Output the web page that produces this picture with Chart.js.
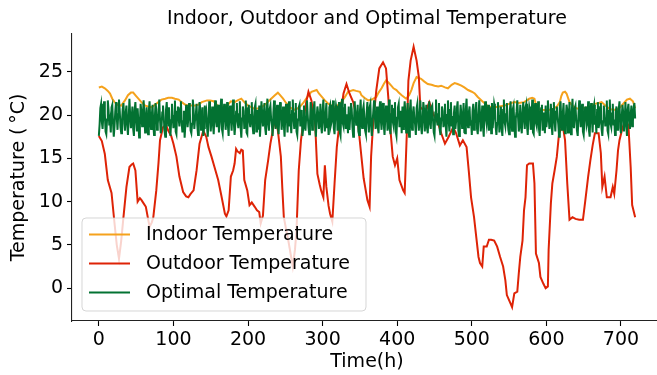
<!DOCTYPE html>
<html>
<head>
<meta charset="utf-8">
<script src="https://cdn.jsdelivr.net/npm/chart.js@4.4.1/dist/chart.umd.min.js"></script>
<style>
  html, body { margin: 0; padding: 0; background: #fff; overflow: hidden; }
  #contenedor { width: 662px; height: 375px; }
</style>
</head>
<body>
<div id="contenedor"><canvas id="grafico" width="662" height="375"></canvas></div>
<script>
// ===================== Datos =====================
const tituloGrafico = 'Indoor, Outdoor and Optimal Temperature';
const tituloX = 'Time(h)';
const tituloY = 'Temperature (\u2009°C)';
const seriesNombres = ['Indoor Temperature', 'Outdoor Temperature', 'Optimal Temperature'];
const seriesColores = ['#f5a21c', '#de2306', '#037232'];

const xTicks = [0, 100, 200, 300, 400, 500, 600, 700];
const yTicks = [0, 5, 10, 15, 20, 25];

// interior
const indoorHoras = [0,4,8,12,15,18,21,25,30,35,39,43,46,50,53,57,62,66,71,75,80,84,89,93,98,102,107,111,116,120,125,129,133,138,145,149,154,158,163,167,172,177,182,186,191,195,200,205,209,214,218,224,231,236,240,243,247,251,256,263,269,274,278,285,292,295,299,303,308,316,320,325,330,334,341,345,350,352,356,361,366,372,375,379,382,385,388,392,395,399,402,406,412,416,419,422,426,432,436,441,446,450,455,459,464,468,473,477,481,486,490,495,500,504,508,513,518,522,527,531,537,544,550,557,563,570,574,577,581,584,586,589,593,598,603,609,614,618,620,622,625,627,631,636,640,645,650,656,660,665,670,674,679,685,690,696,700,704,708,712,716,719];
const indoorTemps = [23.2,23.3,23.1,22.8,22.5,21.9,21.5,21.2,21.1,21.7,22.3,22.6,22.6,22.2,21.9,21.5,21.1,21.0,20.9,21.2,21.5,21.8,21.9,22.0,22.0,21.9,21.8,21.5,21.2,21.1,21.1,21.1,21.2,21.5,21.7,21.7,21.6,21.2,20.9,21.0,21.1,21.6,21.5,21.7,21.9,21.5,21.1,20.9,20.7,20.8,20.9,21.3,21.9,22.3,22.6,22.3,21.9,21.4,20.9,20.6,20.9,21.4,21.9,22.7,22.9,22.5,22.1,21.7,21.3,20.9,21.1,21.5,22.1,22.7,22.9,22.8,22.7,22.3,22.0,21.7,21.8,22.1,22.6,23.1,23.6,24.0,23.8,23.4,23.1,22.9,22.6,22.3,21.9,22.3,22.9,23.7,24.4,24.2,23.9,23.6,23.5,23.4,23.3,23.4,23.2,23.1,23.5,23.7,23.6,23.4,23.2,22.9,22.7,22.5,22.1,21.7,21.3,21.0,20.9,20.9,21.0,21.1,21.3,21.5,21.4,21.5,21.7,21.9,22.0,21.9,21.2,20.7,20.6,20.6,20.6,20.7,21.0,21.5,22.2,22.6,22.7,22.5,21.5,21.0,20.8,20.7,20.8,20.9,21.1,21.3,21.4,21.5,21.1,20.7,20.6,20.7,21.0,21.4,21.8,21.9,21.6,20.8];

// exterior
const outdoorHoras = [0,4,8,12,17,21,24,27,30,33,37,41,44,46,49,52,55,57,60,63,66,68,71,73,77,80,82,86,90,93,97,100,104,108,113,117,120,123,127,131,135,140,144,147,151,155,160,164,169,171,174,177,180,182,184,186,189,191,193,195,199,202,205,209,212,215,217,220,223,227,230,234,237,240,244,246,248,251,254,257,260,263,265,268,271,275,278,281,285,290,293,296,298,301,303,305,308,310,313,316,319,323,328,332,336,341,345,348,352,355,357,360,363,365,368,372,376,381,385,388,391,394,397,400,403,408,410,413,415,418,422,426,429,431,435,439,443,448,455,459,464,469,475,479,484,488,493,496,499,503,506,509,511,514,516,520,523,526,530,534,538,542,545,547,551,554,557,561,563,565,568,570,572,574,577,582,584,586,590,592,596,599,602,603,606,608,611,614,617,622,625,628,631,635,639,644,649,652,656,659,662,665,670,673,675,678,681,686,689,691,694,696,698,702,706,710,713,715,719];
const outdoorTemps = [17.6,17.0,15.5,12.5,11.0,7.5,5.0,3.4,5.5,8.2,11.7,14.0,14.3,14.4,13.6,10.0,10.4,10.2,9.8,9.4,8.0,7.1,7.6,8.2,11.3,14.5,17.1,18.6,18.9,18.2,17.6,16.7,15.2,12.9,11.1,10.6,10.5,10.9,11.3,13.6,16.7,18.2,17.5,16.3,15.2,14.0,12.5,10.8,8.6,8.3,9.0,12.9,13.6,14.4,16.1,15.8,15.6,16.0,15.9,12.5,11.3,9.6,9.9,9.4,9.0,8.8,7.5,8.4,12.5,14.8,16.7,18.6,19.6,18.2,15.2,11.5,8.2,6.8,5.5,4.0,2.5,4.5,6.7,13.6,17.1,19.8,21.5,22.7,21.7,19.0,13.2,12.0,11.3,10.5,14.2,11.7,9.5,8.6,7.7,12.1,16.3,19.4,22.5,23.6,22.5,21.5,20.0,18.6,15.2,12.7,11.7,10.2,9.4,15.2,19.4,22.9,25.4,26.1,25.4,22.1,18.2,15.2,14.2,15.0,12.5,11.3,11.0,18.2,24.0,26.3,27.9,26.3,24.4,20.9,20.6,20.6,21.5,20.2,19.0,17.9,16.7,17.5,18.6,17.9,16.5,17.1,16.3,13.5,10.5,8.2,5.9,3.6,2.9,2.5,4.8,4.8,5.6,5.6,5.5,4.8,3.6,2.5,0.9,-0.8,-1.6,-2.2,-0.6,-0.4,1.7,3.6,5.5,9.0,10.5,14.2,14.4,14.4,12.1,4.0,2.9,1.3,0.5,0.0,0.2,4.4,9.8,12.1,13.6,15.2,17.9,18.8,17.1,12.1,7.9,8.2,8.0,7.9,7.9,10.0,12.9,14.8,16.5,17.9,17.9,15.6,11.7,12.9,10.5,10.5,11.7,10.9,13.6,15.9,17.1,18.5,19.5,18.8,14.0,9.6,8.2];

// óptima (una por hora, una fila por día)
const optimalTemps = [
  17.6,18.9,20.8,21.3,19.2,18.4,19.9,21.6,20.2,18.1,17.8,19.5,21.7,20.6,18.8,19.4,18.0,20.9,21.2,19.1,17.5,18.7,20.4,21.5,
  19.8,18.3,20.1,21.8,20.5,18.6,17.9,19.3,20.7,21.4,19.0,18.2,20.3,21.1,18.9,17.7,19.6,21.9,20.0,18.5,19.7,21.0,18.4,17.6,
  20.6,21.5,19.4,18.1,20.8,19.2,17.4,18.8,21.3,20.4,18.7,19.9,21.7,20.2,18.0,19.1,20.9,18.6,17.8,20.5,21.6,19.3,18.4,20.0,
  21.2,18.9,17.7,19.6,21.4,20.7,18.3,19.0,20.1,21.8,19.5,17.9,18.6,20.3,21.1,19.8,18.2,17.5,20.6,21.5,19.7,18.8,20.9,19.2,
  17.6,19.4,21.3,20.0,18.5,19.9,21.7,18.1,17.8,20.4,21.0,19.6,18.7,20.8,21.6,19.1,18.0,19.3,20.5,17.4,18.9,21.2,20.2,18.6,
  19.7,21.4,20.3,18.2,17.9,19.0,21.8,20.6,18.4,19.5,20.1,21.3,18.8,17.7,19.8,21.5,20.7,18.3,19.2,20.9,17.6,18.5,21.1,19.9,
  20.4,18.7,17.5,19.3,21.6,20.8,18.1,19.6,21.0,18.9,17.8,20.2,21.7,19.4,18.6,20.5,21.2,18.0,19.1,20.7,21.9,18.4,17.9,19.8,
  21.3,20.0,18.3,19.7,21.5,18.8,17.6,20.3,21.1,19.5,18.2,20.6,21.8,19.0,17.7,18.9,20.4,21.4,19.2,18.5,20.1,21.6,18.7,17.4,
  19.6,21.0,20.5,18.4,19.9,21.7,18.0,17.8,20.8,21.2,19.3,18.6,20.0,21.5,18.9,17.9,19.4,20.9,21.3,18.1,19.7,20.6,18.3,21.1,
  17.5,19.2,21.6,20.2,18.7,19.8,21.4,18.5,17.7,20.4,21.9,19.0,18.2,20.7,21.1,19.5,18.8,17.6,20.3,21.7,19.1,18.4,20.0,21.2,
  18.6,17.8,19.9,21.5,20.6,18.3,19.4,21.0,18.9,17.5,20.1,21.3,19.7,18.0,20.8,21.6,18.7,19.2,17.9,20.5,21.8,19.6,18.4,20.2,
  21.4,18.1,17.7,19.5,20.9,21.2,18.8,19.3,20.6,17.6,18.5,21.1,20.3,18.2,19.8,21.7,20.0,18.6,17.8,19.1,21.5,20.7,18.3,19.4,
  20.8,21.6,18.9,17.5,19.7,21.0,20.2,18.4,19.0,21.3,18.7,17.9,20.5,21.8,19.3,18.1,20.0,21.4,18.6,19.6,17.7,20.9,21.2,18.8,
  19.2,20.4,21.7,18.5,17.8,19.9,21.1,20.6,18.2,19.4,21.5,18.0,17.6,20.3,21.9,19.1,18.7,20.8,21.3,18.4,19.5,20.1,17.9,21.0,
  18.3,19.8,21.4,20.7,18.6,17.5,19.3,21.6,20.0,18.9,19.6,21.2,18.1,17.7,20.4,21.8,19.0,18.5,20.6,21.1,19.7,18.2,17.8,20.2,
  21.5,19.4,18.0,20.9,21.3,18.7,17.6,19.2,20.5,21.7,19.9,18.4,19.1,21.0,18.6,17.9,20.3,21.6,19.5,18.3,20.8,21.4,18.9,17.7,
  19.6,21.1,20.4,18.2,19.0,21.8,18.5,17.8,20.1,21.2,19.3,18.8,20.7,21.5,18.1,17.6,19.7,20.9,21.3,18.6,19.2,20.5,17.9,21.0,
  18.4,19.9,21.6,20.3,18.0,19.5,21.4,18.7,17.5,20.6,21.8,19.1,18.3,20.2,21.0,19.6,18.9,17.7,20.8,21.3,19.4,18.2,20.0,21.7,
  18.6,17.8,19.3,21.5,20.7,18.1,19.8,21.2,18.5,17.9,20.4,21.6,19.0,18.4,20.9,21.1,19.5,18.0,17.6,20.3,21.8,19.7,18.8,20.1,
  21.4,18.3,17.7,19.6,21.0,20.5,18.6,19.2,21.3,18.9,17.5,20.0,21.7,19.4,18.1,20.6,21.5,18.7,19.9,17.8,20.2,21.1,18.4,19.3,
  20.8,21.6,18.2,17.6,19.5,21.2,20.1,18.5,19.7,21.4,18.0,17.9,20.7,21.9,19.1,18.6,20.3,21.0,18.8,19.4,17.7,20.5,21.3,18.3,
  19.0,20.6,21.5,18.4,17.8,19.8,21.7,20.2,18.1,19.3,21.1,18.7,17.5,20.4,21.6,19.6,18.9,20.0,21.2,18.2,19.5,20.9,17.9,21.4,
  18.5,19.7,21.3,20.8,18.6,17.7,19.1,21.5,20.3,18.0,19.9,21.0,18.4,17.6,20.6,21.8,19.2,18.7,20.1,21.4,19.4,18.3,17.8,20.5,
  21.6,19.3,18.2,20.7,21.1,18.9,17.5,19.6,20.4,21.7,19.8,18.1,19.0,21.2,18.6,17.9,20.2,21.5,19.5,18.4,20.9,21.3,18.8,17.7,
  19.9,21.0,20.5,18.3,19.2,21.8,18.0,17.8,20.6,21.4,19.1,18.7,20.0,21.6,18.5,17.6,19.7,20.8,21.2,18.2,19.4,20.3,17.9,21.1,
  18.6,19.5,21.7,20.1,18.4,19.0,21.3,18.8,17.7,20.7,21.5,19.3,18.1,20.4,21.0,19.8,18.9,17.5,20.9,21.6,19.2,18.3,20.2,21.4,
  18.7,17.9,19.6,21.2,20.6,18.0,19.7,21.5,18.4,17.8,20.3,21.9,19.1,18.5,20.8,21.1,19.4,18.2,17.6,20.0,21.7,19.9,18.6,20.5,
  21.3,18.1,17.7,19.4,21.0,20.4,18.8,19.2,21.6,18.3,17.5,20.1,21.4,19.5,18.0,20.7,21.2,18.9,19.8,17.9,20.6,21.5,18.5,19.0,
  20.9,21.4,18.4,17.6,19.3,21.1,20.0,18.7,19.6,21.7,18.2,17.8,20.5,21.8,19.0,18.6,20.2,21.3,18.8,19.5,17.7,20.4,21.0,18.3,
  19.1,20.7,21.6,18.5,17.9,19.8,21.2,20.3,18.1,19.4,21.5,18.9,17.6,20.6,21.3,19.7,18.4,20.0,21.1,18.7,19.3,20.8,21.4,19.6
];

// ===================== Leyenda dibujada encima de las líneas =====================
const leyendaEncima = {
    id: 'leyendaEncima',
    afterDatasetsDraw(chart) {
        const ctx = chart.ctx;
        const area = chart.chartArea;
        const x = area.left + 10, y = area.bottom - 103, w = 284, h = 93;
        ctx.save();
        ctx.beginPath();
        ctx.roundRect(x, y, w, h, 4);
        ctx.fillStyle = 'rgba(255,255,255,0.8)';
        ctx.fill();
        ctx.strokeStyle = 'rgba(204,204,204,0.8)';
        ctx.lineWidth = 1;
        ctx.stroke();
        ctx.font = '19px "DejaVu Sans"';
        ctx.textBaseline = 'middle';
        ctx.textAlign = 'left';
        seriesNombres.forEach((nombre, i) => {
            const cy = y + 16.5 + i * 29;
            ctx.beginPath();
            ctx.moveTo(x + 7, cy);
            ctx.lineTo(x + 48, cy);
            ctx.strokeStyle = seriesColores[i];
            ctx.lineWidth = 2;
            ctx.stroke();
            ctx.fillStyle = '#000';
            ctx.fillText(nombre, x + 64, cy + 1);
        });
        ctx.restore();
    }
};

// ===================== Gráfico =====================
Chart.defaults.font.family = '"DejaVu Sans"';
Chart.defaults.font.size = 19;
Chart.defaults.color = '#000';

const aPuntos = (xs, ys) => ys.map((v, i) => ({ x: xs[i], y: v }));

new Chart(document.getElementById('grafico'), {
    type: 'line',
    data: {
        datasets: [
            { label: seriesNombres[0], data: aPuntos(indoorHoras, indoorTemps), borderColor: seriesColores[0], order: 3 },
            { label: seriesNombres[1], data: aPuntos(outdoorHoras, outdoorTemps), borderColor: seriesColores[1], order: 2 },
            { label: seriesNombres[2], data: optimalTemps.map((v, i) => ({ x: i, y: v })), borderColor: seriesColores[2], order: 1 }
        ]
    },
    options: {
        responsive: false,
        animation: false,
        layout: { padding: 0 },
        elements: {
            line: { borderWidth: 2, tension: 0 },
            point: { radius: 0 }
        },
        plugins: {
            legend: { display: false },
            tooltip: { enabled: false },
            title: {
                display: true,
                text: tituloGrafico,
                fullSize: false,
                font: { size: 19, weight: 'normal' },
                padding: { top: 8, bottom: 3 }
            }
        },
        scales: {
            x: {
                type: 'linear',
                min: -36,
                max: 755,
                afterFit: (s) => { s.height = 54; },
                afterBuildTicks: (s) => { s.ticks = xTicks.map(v => ({ value: v })); },
                grid: { drawOnChartArea: false, tickLength: 5, tickColor: '#000', tickWidth: 1.1 },
                border: { color: '#222', width: 1.1 },
                ticks: { padding: 3, maxRotation: 0 },
                title: { display: true, text: tituloX, padding: { top: 0, bottom: 2 } }
            },
            y: {
                min: -3.8,
                max: 29.4,
                afterFit: (s) => { s.width = 72; },
                afterBuildTicks: (s) => { s.ticks = yTicks.map(v => ({ value: v })); },
                grid: { drawOnChartArea: false, tickLength: 5, tickColor: '#000', tickWidth: 1.1 },
                border: { color: '#222', width: 1.1 },
                ticks: { padding: 4 },
                title: { display: true, text: tituloY, padding: { top: 8, bottom: 0 } }
            }
        }
    },
    plugins: [leyendaEncima]
});
</script>
</body>
</html>
